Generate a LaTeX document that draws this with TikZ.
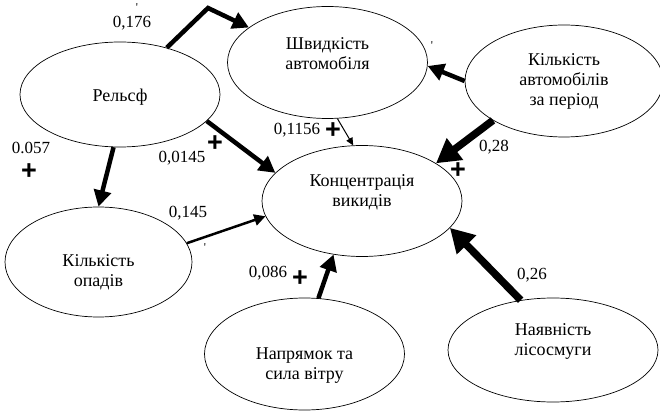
\documentclass[tikz,border=0pt]{standalone}
\usepackage{fontspec}
\setmainfont{Liberation Serif}
\newfontfamily\signfont{Liberation Sans}
\usetikzlibrary{arrows.meta,shapes.geometric}

\tikzset{
	factor/.style={draw, ellipse, line width=0.7pt, inner sep=0pt},
	txt/.style={align=center, inner sep=0pt, font=\fontsize{18}{20}\selectfont},
	wt/.style={inner sep=0pt, font=\fontsize{17}{17}\selectfont},
	sgn/.style={inner sep=0pt, font=\signfont\fontsize{27}{27}\selectfont\bfseries},
	stray/.style={inner sep=0pt, font=\fontsize{12}{12}\selectfont},
	link/.style={line width=#1, -{Triangle[length=5pt 2.5, width=4pt 2.9]}}
}

\begin{document}
\begin{tikzpicture}[x=1pt, y=-1pt]
		%%%%% START %%%%%
		\useasboundingbox (0, 0) rectangle (660, 411);
		
		\node[factor, minimum width=200pt, minimum height=105pt, label={[txt, yshift=-3pt]center:Рельсф}] (relief) at (120, 94.5) {};
		\node[factor, minimum width=200pt, minimum height=112pt, label={[txt, yshift=9pt]center:Швидкість\\автомобіля}] (speed) at (327.5, 62.5) {};
		\node[factor, minimum width=198pt, minimum height=112pt, label={[txt]center:Кількість\\автомобілів\\за період}] (cars) at (564, 81) {};
		\node[factor, minimum width=200pt, minimum height=111pt, label={[txt, yshift=9pt]center:Концентрація\\викидів}] (conc) at (362, 201) {};
		\node[factor, minimum width=187pt, minimum height=110pt, label={[txt, yshift=-10pt]center:Кількість\\опадів}] (rain) at (98.5, 262) {};
		\node[factor, minimum width=200pt, minimum height=112pt, label={[txt, yshift=-12pt]center:Напрямок та\\сила вітру}] (wind) at (304.5, 354) {};
		\node[factor, minimum width=210pt, minimum height=104pt, label={[txt, yshift=9pt]center:Наявність\\лісосмуги}] (forest) at (553, 350) {};
		
		\coordinate (bend) at (208, 8);
		\draw[link=4.5pt] (relief.45) -- (bend) -- (speed.156);
		\draw[link=4.5pt] (relief.-17) -- (conc.162);
		\draw[link=4.5pt] (relief.-97) -- (rain.90);
		\draw[link=2.5pt] (rain.12) -- (conc.-171);
		\draw[link=1pt] (speed.-80) -- (conc.99);
		\draw[link=4.5pt] (cars.180) -- (speed.-2);
		\draw[link=7.5pt] (cars.-151) -- (conc.27);
		\draw[link=4.5pt] (wind.76) -- (conc.-118);
		\draw[link=7.5pt] (forest.123) -- (conc.-17);
		
		\node[wt] (w176) at (132, 23) {0,176};
		\node[stray] (s176) at (137, 8) {\textquotesingle};
		\node[wt] (w0145) at (182, 158) {0,0145};
		\node[sgn] (p0145) at (215, 144) {+};
		\node[wt] (w057) at (31, 148) {0.057};
		\node[sgn] (p057) at (29, 172) {+};
		\node[wt] (w145) at (188, 213) {0,145};
		\node[stray] (s145) at (205, 248) {\textquotesingle};
		\node[wt] (w1156) at (297, 130) {0,1156};
		\node[sgn] (p1156) at (333, 131) {+};
		\node[stray] (scars) at (432, 46) {\textquotesingle};
		\node[wt] (w28) at (494, 147) {0,28};
		\node[sgn] (p28) at (458, 171) {+};
		\node[wt] (w086) at (268, 273) {0,086};
		\node[sgn] (p086) at (300, 279) {+};
		\node[wt] (w26) at (532, 275) {0,26};
		
		%%%%% END %%%%%
\end{tikzpicture}
\end{document}
